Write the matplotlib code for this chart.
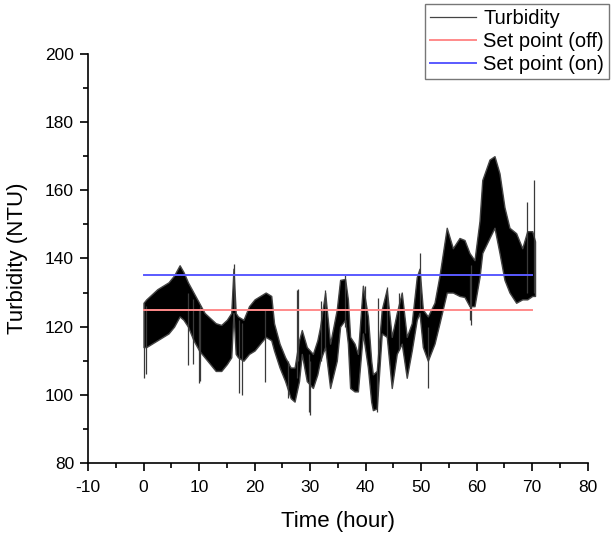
import numpy as np
import matplotlib
matplotlib.use("Agg")
import matplotlib.pyplot as plt
from matplotlib.ticker import MultipleLocator

"""""""""""""""""""""""""""""""""""""""""""""""""""""""""
: Data (read off the reference, envelope of the signal)
"""""""""""""""""""""""""""""""""""""""""""""""""""""""""
time_h = [0, 0.5, 1.5, 2.5, 3.5, 4.5, 5.5, 6.5, 7.2, 8, 9, 10, 11, 12, 13, 14,
          15, 15.8, 16.2, 16.6, 17, 18, 19, 20, 21, 22, 23, 23.5, 24.5, 25.5,
          26.5, 27.2, 28, 28.5, 29.4, 30.5, 31.3, 31.8, 32.7, 33.6, 34.8, 35.4,
          36.3, 36.8, 37.2, 38, 38.6, 39.5, 40.4, 41, 41.3, 42, 42.9, 43.8,
          44.7, 45.6, 46.5, 47.4, 48.3, 49.2, 49.7, 50.3, 51.2, 52.4, 53.3,
          54.6, 55.7, 56.9, 57.8, 58.7, 59.6, 60.5, 61, 62.3, 63.2, 64.1, 65,
          65.9, 67.1, 68.2, 69.1, 70, 70.5]
turb_low = [114, 114, 115, 116, 117, 118, 120, 123, 122, 120, 116, 113, 111,
            109, 107, 107, 109, 111, 124, 112, 111, 110, 112, 113, 115, 117,
            116, 113, 108, 104, 99, 98, 104, 112, 104, 102, 106, 110, 114, 102,
            110, 120, 122, 115, 102, 101, 101, 118, 108, 98, 95.5, 96, 118, 117,
            102, 112, 115, 105, 113, 122, 124, 114, 110, 115, 121, 130, 130,
            129, 128.7, 126, 126, 134.5, 141.6, 146, 149, 141.6, 133.7, 130,
            127, 128, 128, 129, 129]
turb_high = [127, 128, 129.5, 131, 132, 133, 135, 138, 136, 133, 130, 127, 124,
             122.5, 121, 120.5, 122, 124, 137, 124, 123, 122, 126, 128, 129,
             130, 129, 121, 115, 111, 108, 108, 116, 119, 114, 112, 116, 120,
             130, 115, 125, 133.7, 134, 128, 117, 115, 112, 132, 123, 110, 106,
             107, 125, 131, 117, 124, 130, 117, 121, 134.5, 137, 125, 123, 127,
             135, 149, 143, 146, 145.4, 141.6, 139.5, 151, 163, 169, 170, 165,
             155, 149, 147.4, 143, 148, 148, 145]

spike_t = [0.1, 0.4, 8.0, 9.0, 10.0, 10.2, 16.3, 17.2, 17.8, 21.9, 26.0, 27.6,
           27.8, 29.8, 30.0, 32.0, 32.7, 36.3, 39.9, 42.0, 42.2, 43.8, 46.0,
           49.7, 51.2, 58.8, 58.9, 69.1, 70.4]
spike_low = [105, 106, 108.7, 109, 103.5, 104, 125, 100.5, 100, 103.7, 99, 105,
             110, 95, 94, 110, 114, 120, 118, 95, 110, 117, 113, 125, 102, 122,
             120.5, 130, 130]
spike_high = [127, 126, 130, 128, 125, 126, 138.5, 122, 121, 125, 110, 130.7,
              131, 112, 110, 127.5, 130.7, 135, 132, 107, 128.4, 131.6, 130,
              141.6, 120, 135, 138, 156.5, 163]

set_off = 125
set_on = 135
set_span = [0, 70]

"""""""""""""""""""""""""""""""""""""""""""""""""""""""""
: Plotting
"""""""""""""""""""""""""""""""""""""""""""""""""""""""""
plt.rcParams['font.family'] = ['Liberation Sans', 'DejaVu Sans']
plt.rcParams['axes.unicode_minus'] = False

fig = plt.figure(figsize=(6.11, 5.39), dpi=100)
ax = fig.add_axes([0.144, 0.141, 0.818, 0.759])

ax.fill_between(time_h, turb_low, turb_high, facecolor='black',
                edgecolor='#444444', lw=1.0)
ax.vlines(spike_t, spike_low, spike_high, color='#3a3a3a', lw=0.9)
ax.plot([], [], color='#444444', lw=0.9, label='Turbidity')
ax.plot(set_span, [set_off, set_off], color='#ff8a8a', lw=1.4, label='Set point (off)')
ax.plot(set_span, [set_on, set_on], color='#5a5aff', lw=1.4, label='Set point (on)')

ax.set_xlim(-10, 80)
ax.set_ylim(80, 200)
ax.xaxis.set_major_locator(MultipleLocator(10))
ax.xaxis.set_minor_locator(MultipleLocator(5))
ax.yaxis.set_major_locator(MultipleLocator(20))
ax.yaxis.set_minor_locator(MultipleLocator(10))
ax.spines['top'].set_visible(False)
ax.spines['right'].set_visible(False)
for s in ['left', 'bottom']:
    ax.spines[s].set_linewidth(1.2)
ax.tick_params(which='major', direction='out', length=6, width=1.2, labelsize=12.5)
ax.tick_params(which='minor', direction='out', length=3.5, width=1.2)
ax.tick_params(axis='x', which='major', pad=6)
ax.tick_params(axis='y', which='major', pad=4)
ax.set_xlabel('Time (hour)', fontsize=16, labelpad=12)
ax.set_ylabel('Turbidity (NTU)', fontsize=16, labelpad=12)

leg = ax.legend(loc='upper left', bbox_to_anchor=(425 / 611, 1 - 4 / 539),
                bbox_transform=fig.transFigure, fontsize=14.5, frameon=True,
                fancybox=False, handlelength=2.3, handletextpad=0.35,
                borderpad=0.25, labelspacing=0.2, borderaxespad=0)
leg.get_frame().set_edgecolor('#555555')
leg.get_frame().set_linewidth(1.0)

plt.savefig('out.png', dpi=100)
plt.close()
